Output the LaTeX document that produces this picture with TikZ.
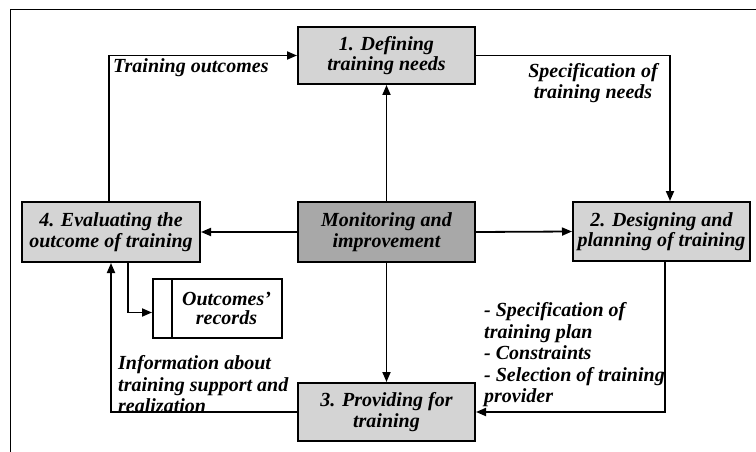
\documentclass[tikz,border=0pt]{standalone}
\usepackage{fontspec}
\setmainfont{Liberation Serif}
\usetikzlibrary{arrows.meta,calc}
\definecolor{boxgray}{gray}{0.83}
\definecolor{mongray}{gray}{0.66}
\tikzset{
  box/.style={draw=black, line width=2pt, fill=boxgray, align=center, inner sep=0pt,
    font=\fontsize{20}{20.5}\selectfont\bfseries\itshape},
  lbl/.style={align=left, inner sep=0pt, font=\fontsize{20}{21.5}\selectfont\bfseries\itshape},
  arr/.style={line width=1.8pt, -{Triangle[length=10pt,width=8pt]}},
  ln/.style={line width=1.8pt}
}
\begin{document}
\begin{tikzpicture}[x=1pt,y=-1pt]
\useasboundingbox (0,0) rectangle (756,452);
\fill[white] (0,0) rectangle (756,452);
% frame (only top and left visible)
\draw[ln] (756,9.5) -- (10.5,9.5) -- (10.5,452);
% boxes
\node[box, minimum width=177pt, minimum height=57pt] (b1) at (386.5,55.5) {1. Defining\\training needs};
\node[box, minimum width=178pt, minimum height=60pt] (b4) at (111,232) {4. Evaluating the\\outcome of training};
\node[box, fill=mongray, minimum width=177pt, minimum height=60pt] (mon) at (386.5,232) {Monitoring and\\improvement};
\node[box, minimum width=177pt, minimum height=59pt] (b2) at (661.5,231.5) {2. Designing and\\planning of training};
\node[box, minimum width=177pt, minimum height=58pt] (b3) at (386.5,412) {3. Providing for\\training};
\node[box, fill=white, minimum width=129pt, minimum height=59pt, font=\fontsize{20}{18.5}\selectfont\bfseries\itshape] (rec) at (217.5,308.5) {\hspace*{18pt}Outcomes'\\\hspace*{18pt}records};
\draw[line width=2pt] ([xshift=20pt]rec.north west) -- ([xshift=20pt]rec.south west);
% connectors
\draw[arr] (mon.north) -- (b1.south);
\draw[arr] (mon.west) -- (b4.east);
\draw[arr] (mon.east) -- (b2.west);
\draw[arr] (mon.south) -- (b3.north);
\draw[arr] ([xshift=-2pt]b4.north) |- (b1.west);
\draw[arr] (b1.east) -| ([xshift=8.5pt]b2.north);
\draw[arr] ([xshift=3.5pt]b2.south) |- (b3.east);
\draw[arr] (b3.west) -| (b4.south);
\draw[arr] ([xshift=17pt]b4.south) |- ([yshift=-4pt]rec.west);
% labels (base anchor = baseline of last line)
\node[lbl, anchor=base west] (l1) at (113,73) {Training outcomes};
\node[lbl, align=center, anchor=base] (l2) at (593,99) {Specification of\\training needs};
\node[lbl, anchor=base west] (l3) at (484,402.5) {- Specification of\\training plan\\- Constraints\\- Selection of training\\provider};
\node[lbl, anchor=base west] (l4) at (118,412.5) {Information about\\training support and\\realization};
\end{tikzpicture}
\end{document}
